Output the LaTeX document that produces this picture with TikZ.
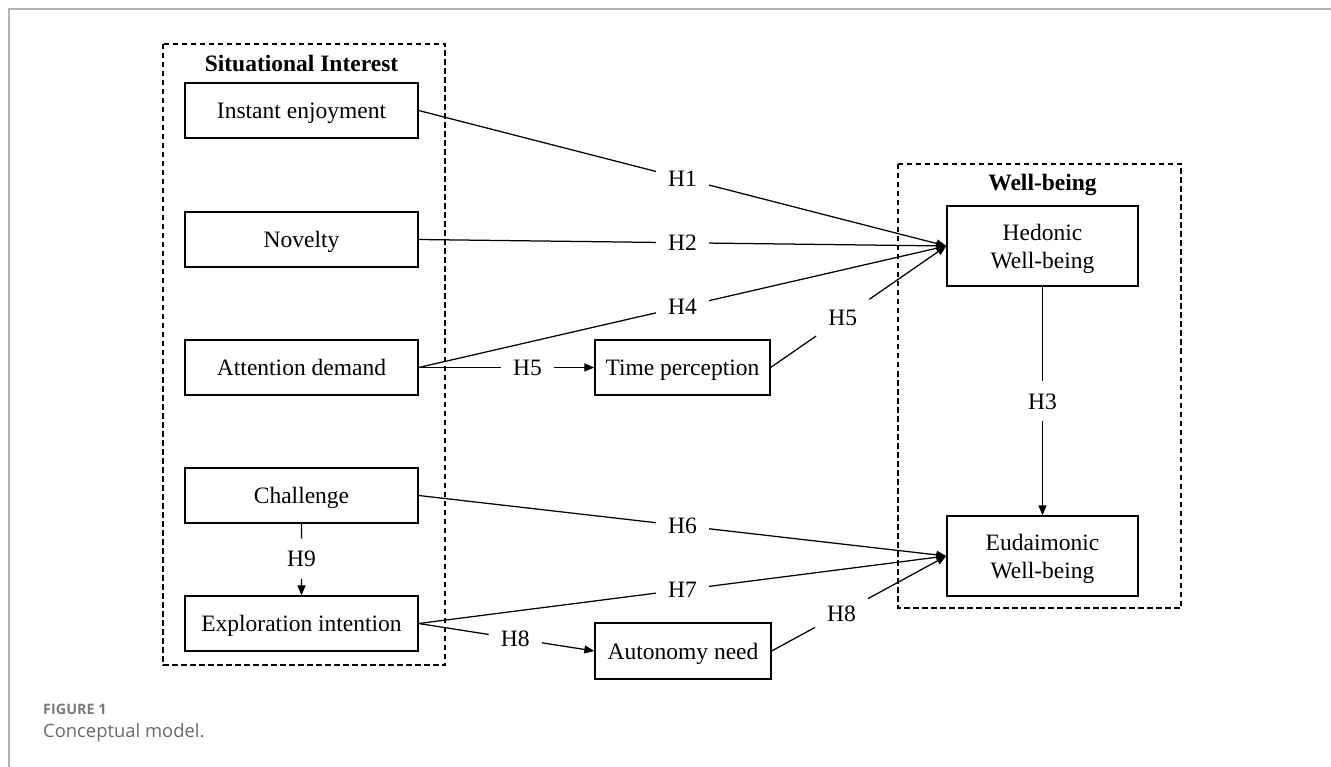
\documentclass[tikz,border=0pt]{standalone}
\usepackage{fontspec}
\setmainfont{Liberation Serif}
\newfontfamily\capfont{Open Sans}
\usetikzlibrary{arrows.meta,calc}
\definecolor{framegray}{HTML}{B4B4B4}
\definecolor{capgray}{HTML}{7A7A7A}
\definecolor{capgrayb}{HTML}{6A6A6A}
\tikzset{
  mainfont/.style={font=\fontsize{23.5}{28.2}\selectfont},
  box/.style={draw, line width=1.3pt, mainfont, text height=16pt, text depth=0pt, inner sep=0pt},
  twobox/.style={draw, line width=1.3pt, mainfont, align=center, text depth=0pt, inner sep=0pt},
  group/.style={draw, dashed, dash pattern=on 5.5pt off 3.5pt, line width=1.1pt},
  grouptitle/.style={font=\fontsize{23.5}{28.2}\selectfont\bfseries, anchor=base},
  lab/.style={mainfont, text height=16pt, text depth=0pt, inner xsep=12pt, inner ysep=12pt},
  conn/.style={line width=1.25pt},
  arr/.style={line width=1.25pt, -{Triangle[length=10pt,width=8pt]}},
}
\begin{document}
\begin{tikzpicture}[x=1pt,y=-1pt]
\useasboundingbox (0,0) rectangle (1331,767);
% outer frame
\draw[framegray, line width=2pt] (1331,9) -- (9,9) -- (9,767);
% groups
\draw[group] (163,44) rectangle (445,665);
\draw[group] (898,164) rectangle (1181,608);
\node[grouptitle] (sit) at (301.5,72) {Situational Interest};
\node[grouptitle] (wb) at (1042.5,191) {Well-being};
% boxes
\node[box, minimum width=233pt, minimum height=55pt] (ie)  at (301.5,110.5) {Instant enjoyment};
\node[box, minimum width=233pt, minimum height=55pt] (nov) at (301.5,239.5) {Novelty};
\node[box, minimum width=233pt, minimum height=55pt] (att) at (301.5,367.5) {Attention demand};
\node[box, minimum width=233pt, minimum height=55pt] (cha) at (301.5,495.5) {Challenge};
\node[box, minimum width=233pt, minimum height=55pt] (exp) at (301.5,623.5) {Exploration intention};
\node[box, minimum width=175pt, minimum height=55pt] (tp)  at (682.5,367.5) {Time perception};
\node[box, minimum width=176pt, minimum height=56pt] (an)  at (683,651) {Autonomy need};
\node[twobox, minimum width=191pt, minimum height=80pt] (hed) at (1042.5,246) {Hedonic\\Well-being};
\node[twobox, minimum width=191pt, minimum height=80pt] (eud) at (1042.5,556) {Eudaimonic\\Well-being};
% labels
\node[lab] (h1) at ($(ie.east)!0.5!(hed.west)$) {H1};
\node[lab] (h2) at ($(nov.east)!0.5!(hed.west)$) {H2};
\node[lab] (h4) at ($(att.east)!0.5!(hed.west)$) {H4};
\node[lab] (h5a) at ($(att.east)!0.62!(tp.west)$) {H5};
\node[lab] (h5b) at ($(tp.east)!0.41!(hed.west)$) {H5};
\node[lab] (h3) at ($(hed.south)!0.5!(eud.north)$) {H3};
\node[lab] (h6) at ($(cha.east)!0.5!(eud.west)$) {H6};
\node[lab] (h7) at ($(exp.east)!0.5!(eud.west)$) {H7};
\node[lab] (h8a) at ($(exp.east)!0.55!(an.west)$) {H8};
\node[lab] (h8b) at ($(an.east)!0.40!(eud.west)$) {H8};
\node[lab] (h9) at ($(cha.south)!0.49!(exp.north)$) {H9};
% connectors
\draw[conn] (ie.east) -- (h1); \draw[arr] (h1) -- (hed.west);
\draw[conn] (nov.east) -- (h2); \draw[arr] (h2) -- (hed.west);
\draw[conn] (att.east) -- (h4); \draw[arr] (h4) -- (hed.west);
\draw[conn] (att.east) -- (h5a); \draw[arr] (h5a) -- (tp.west);
\draw[conn] (tp.east) -- (h5b); \draw[arr] (h5b) -- (hed.west);
\draw[conn] (hed.south) -- (h3); \draw[arr] (h3) -- (eud.north);
\draw[conn] (cha.east) -- (h6); \draw[arr] (h6) -- (eud.west);
\draw[conn] (exp.east) -- (h7); \draw[arr] (h7) -- (eud.west);
\draw[conn] (exp.east) -- (h8a); \draw[arr] (h8a) -- (an.west);
\draw[conn] (an.east) -- (h8b); \draw[arr] (h8b) -- (eud.west);
\draw[conn] (cha.south) -- (h9); \draw[arr] (h9) -- (exp.north);
% caption
\node[anchor=base west, inner sep=0pt, text=capgray, font=\capfont\bfseries\fontsize{14.4}{17}\selectfont] (fig) at (43,714) {FIGURE 1};
\node[anchor=base west, inner sep=0pt, text=capgrayb, font=\capfont\fontsize{18.4}{21}\selectfont] (cap) at (43,737) {Conceptual model.};
\end{tikzpicture}
\end{document}
